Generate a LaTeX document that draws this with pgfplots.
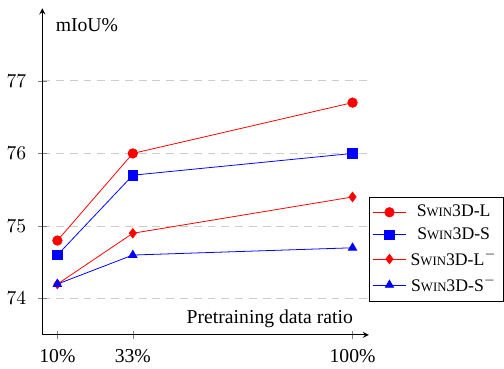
\documentclass[border=0pt]{standalone}
\usepackage{fontspec}
\setmainfont{Liberation Serif}
\usepackage{pgfplots}
\pgfplotsset{compat=1.18}
\newcommand{\swin}{S{\fontsize{6.5}{7}\selectfont WIN}3D}
\begin{document}
\begin{tikzpicture}
\begin{axis}[
  scale only axis, width=166pt, height=166pt,
  axis lines=left,
  xmin=5.4, xmax=105, ymin=73.5, ymax=78,
  xtick={10,33,100}, xticklabels={10\%,33\%,100\%},
  ytick={74,75,76,77},
  yticklabel style={xshift=-2.5pt},
  xticklabel style={yshift=-1.5pt},
  ymajorgrids, grid style={dashed, gray!40, dash pattern=on 4pt off 3pt},
  xlabel={Pretraining data ratio},
  xlabel style={at={(rel axis cs:0.972,0.05)}, anchor=east},
  ylabel={mIoU\%},
  ylabel style={rotate=-90, at={(rel axis cs:0.02,0.95)}, anchor=west},
  legend style={at={(rel axis cs:1,0.10)}, anchor=south west, draw=black, fill=white, font=\small, inner xsep=1.5pt},
  mark size=2.4pt,
]
\addplot[red, mark=*] coordinates {(10,74.8) (33,76.0) (100,76.7)};
\addlegendentry{\swin-L}
\addplot[blue, mark=square*] coordinates {(10,74.6) (33,75.7) (100,76.0)};
\addlegendentry{\swin-S}
\addplot[red, mark=diamond*] coordinates {(10,74.2) (33,74.9) (100,75.4)};
\addlegendentry{\swin-L$^{-}$}
\addplot[blue, mark=triangle*] coordinates {(10,74.2) (33,74.6) (100,74.7)};
\addlegendentry{\swin-S$^{-}$}
\end{axis}
\path (current bounding box.north west) ++(0pt,4pt);
\end{tikzpicture}
\end{document}
